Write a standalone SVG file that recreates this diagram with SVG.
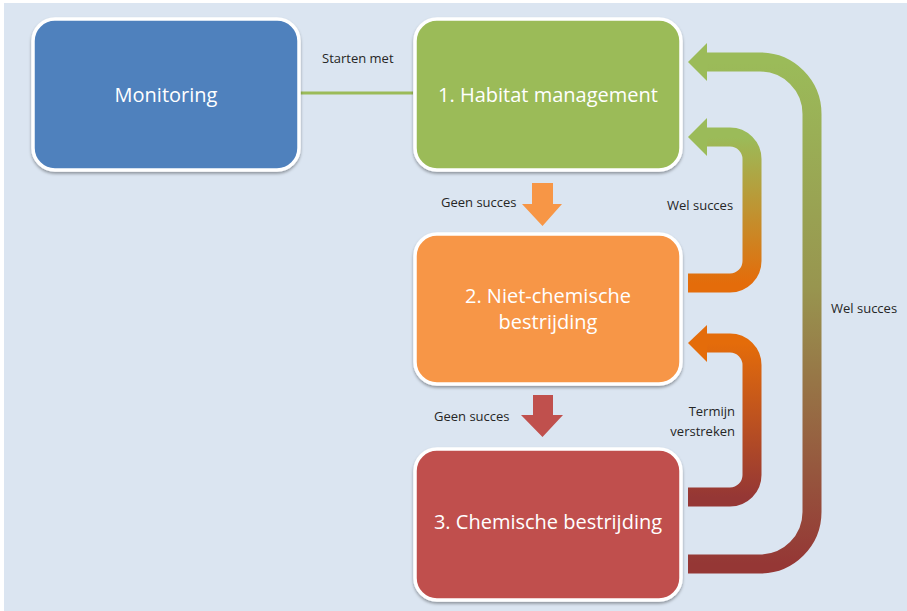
<svg xmlns="http://www.w3.org/2000/svg" width="907" height="611" viewBox="0 0 907 611">
<defs>
<style>
.box{stroke:#ffffff;stroke-width:3.5;filter:url(#sh)}
.big{font-family:"Open Sans","Liberation Sans",sans-serif;font-size:20px;fill:#ffffff;text-anchor:middle}
.lbl{font-family:"Open Sans","Liberation Sans",sans-serif;font-size:13px;fill:#262626}
.arr{fill:none;stroke-width:19;stroke-linecap:butt}
</style>
<filter id="sh" x="-10%" y="-10%" width="120%" height="125%">
<feDropShadow dx="0" dy="2" stdDeviation="1.5" flood-color="#000000" flood-opacity="0.35"/>
</filter>
<linearGradient id="g1" gradientUnits="userSpaceOnUse" x1="0" y1="137" x2="0" y2="283">
<stop offset="0" stop-color="#9bbb59"/><stop offset="1" stop-color="#e46c0a"/>
</linearGradient>
<linearGradient id="g2" gradientUnits="userSpaceOnUse" x1="0" y1="62" x2="0" y2="564">
<stop offset="0" stop-color="#9bbb59"/><stop offset="0.45" stop-color="#98954f"/><stop offset="1" stop-color="#953735"/>
</linearGradient>
<linearGradient id="g3" gradientUnits="userSpaceOnUse" x1="0" y1="343" x2="0" y2="497">
<stop offset="0" stop-color="#e46c0a"/><stop offset="1" stop-color="#953735"/>
</linearGradient>
</defs>
<rect x="0" y="0" width="907" height="611" fill="#ffffff"/>
<rect x="4" y="3" width="903" height="608" fill="#dbe5f1"/>
<g id="connectors">
<line x1="299" y1="93" x2="413" y2="93" stroke="#9bbb59" stroke-width="3"/>
<polygon points="532,183 553,183 553,204 562,204 542.5,226 522,204 532,204" fill="#f79646"/>
<polygon points="533,395 553,395 553,415 563,415 542.5,437 521,415 533,415" fill="#c0504d"/>
<path class="arr" stroke="url(#g1)" d="M 688 283 H 730 A 22 22 0 0 0 752 261 V 159 A 22 22 0 0 0 730 137 H 704"/>
<polygon points="688,137 707,118 707,156" fill="#9bbb59"/>
<path class="arr" stroke="url(#g2)" d="M 688 564 H 760 A 52 52 0 0 0 812 512 V 114 A 52 52 0 0 0 760 62 H 704"/>
<polygon points="688,62 707,43 707,81" fill="#9bbb59"/>
<path class="arr" stroke="url(#g3)" d="M 688 497 H 730 A 22 22 0 0 0 752 475 V 365 A 22 22 0 0 0 730 343 H 704"/>
<polygon points="688,343 707,325 707,362" fill="#e46c0a"/>
<text class="lbl" x="322" y="63">Starten met</text>
<text class="lbl" x="441" y="207">Geen succes</text>
<text class="lbl" x="667" y="210">Wel succes</text>
<text class="lbl" x="831" y="313">Wel succes</text>
<text class="lbl" x="434" y="421">Geen succes</text>
<text class="lbl" x="735" y="416" text-anchor="end">Termijn</text>
<text class="lbl" x="735" y="436" text-anchor="end">verstreken</text>
</g>
<g id="monitoring">
<rect class="box" x="33" y="19" width="266" height="151" rx="22" fill="#4f81bd"/>
<text class="big" x="166" y="102">Monitoring</text>
</g>
<g id="habitat">
<rect class="box" x="415" y="19" width="266" height="151" rx="22" fill="#9bbb59"/>
<text class="big" x="548" y="102">1. Habitat management</text>
</g>
<g id="nietchemisch">
<rect class="box" x="415" y="234" width="266" height="150" rx="22" fill="#f79646"/>
<text class="big" x="548" y="303">2. Niet-chemische</text>
<text class="big" x="548" y="329">bestrijding</text>
</g>
<g id="chemisch">
<rect class="box" x="415" y="449" width="266" height="151" rx="22" fill="#c0504d"/>
<text class="big" x="548" y="529">3. Chemische bestrijding</text>
</g>
</svg>
